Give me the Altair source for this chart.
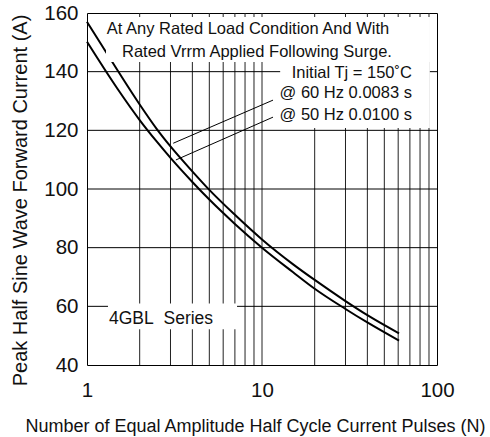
import altair as alt
import pandas as pd

FONT = "Liberation Sans"

# ---- curve data ----
n_60hz = [1, 1.5, 2, 2.5, 3, 4, 5, 7, 10, 15, 20, 30, 40, 60.7]
i_60hz = [157.0, 140.3, 128.8, 120.5, 114.5, 106.0, 99.7, 91.2, 82.8, 74.4, 69.0, 61.8, 57.0, 50.8]
n_50hz = [1, 1.5, 2, 2.5, 3, 4, 5, 7, 10, 15, 20, 30, 40, 60.7]
i_50hz = [150.2, 134.0, 123.5, 116.2, 110.6, 102.4, 96.4, 88.1, 80.0, 71.7, 66.0, 59.1, 54.5, 48.3]

# ---- axis / grid values ----
x_tick_values = [1, 10, 100]
y_tick_values = [40, 60, 80, 100, 120, 140, 160]
x_grid_values = [2, 3, 4, 5, 6, 7, 8, 9, 10, 20, 30, 40, 50, 60, 70, 80, 90]
y_grid_values = [60, 80, 100, 120, 140]

# ---- annotation texts ----
top_lines = ["At Any Rated Load Condition And With", "Rated Vrrm Applied Following Surge."]
top_x = [8.32, 9.36]
top_y = [154.5, 146.7]
right_lines = ["Initial Tj = 150˚C", "@ 60 Hz 0.0083 s", "@ 50 Hz 0.0100 s"]
right_x = [71.9, 71.9, 71.9]
right_y = [139.6, 132.6, 125.2]
series_label = ["4GBL\u00a0 Series"]
series_x = [1.336]
series_y = [55.7]

# white label backgrounds
box_x = [1.284, 12.7, 1.318]
box_x2 = [91.0, 91.0, 7.2]
box_y = [158.6, 158.6, 61.0]
box_y2 = [143.3, 120.8, 52.2]

# leader lines from labels to curves
lead_x = [11.56, 11.56]
lead_y = [130.3, 124.5]
lead_x2 = [3.11, 3.22]
lead_y2 = [115.6, 109.9]

curves = pd.concat([
    pd.DataFrame({"N": n_60hz, "I": i_60hz, "s": "60Hz"}),
    pd.DataFrame({"N": n_50hz, "I": i_50hz, "s": "50Hz"}),
])

xscale = alt.Scale(type="log", domain=[1, 100], nice=False)
yscale = alt.Scale(domain=[40, 160], nice=False)

XTITLE = "Number of Equal Amplitude Half Cycle Current Pulses (N)"
YTITLE = "Peak Half Sine Wave Forward Current (A)"

xaxis = alt.Axis(
    values=x_tick_values, title=XTITLE,
    labelPadding=15, titleFontSize=18,
    titleX=168, titleY=61, titleAlign="center", titleBaseline="middle",
)
yaxis = alt.Axis(
    values=y_tick_values, title=YTITLE,
    labelPadding=9, labelBaseline="middle", titleFontSize=20,
    titleX=-67, titleY=187, titleAlign="center", titleBaseline="middle", titleAngle=270,
)


def X(field):
    return alt.X(field, type="quantitative", scale=xscale, axis=xaxis)


def Y(field):
    return alt.Y(field, type="quantitative", scale=yscale, axis=yaxis)


vgrid = alt.Chart(pd.DataFrame({"N": x_grid_values})).mark_rule(
    color="#222", strokeWidth=1
).encode(x=X("N"))

hgrid = alt.Chart(pd.DataFrame({"I": y_grid_values})).mark_rule(
    color="#000", strokeWidth=1
).encode(y=Y("I"))

lines = alt.Chart(curves).mark_line(
    color="black", strokeWidth=2, interpolate="monotone"
).encode(
    x=X("N"), y=Y("I"),
    detail="s:N",
    order="N:Q",
)

boxes = alt.Chart(pd.DataFrame({"x": box_x, "x2": box_x2, "y": box_y, "y2": box_y2})).mark_rect(
    color="white"
).encode(x=X("x"), x2="x2:Q", y=Y("y"), y2="y2:Q")

leaders = alt.Chart(pd.DataFrame({"x": lead_x, "y": lead_y, "x2": lead_x2, "y2": lead_y2})).mark_rule(
    color="black", strokeWidth=1
).encode(x=X("x"), x2="x2:Q", y=Y("y"), y2="y2:Q")

top_text = alt.Chart(pd.DataFrame({"t": top_lines, "x": top_x, "y": top_y})).mark_text(
    font=FONT, fontSize=16.5, color="#111", align="center", baseline="middle"
).encode(x=X("x"), y=Y("y"), text="t:N")

right_text = alt.Chart(pd.DataFrame({"t": right_lines, "x": right_x, "y": right_y})).mark_text(
    font=FONT, fontSize=16.5, color="#111", align="right", baseline="middle"
).encode(x=X("x"), y=Y("y"), text="t:N")

series_text = alt.Chart(pd.DataFrame({"t": series_label, "x": series_x, "y": series_y})).mark_text(
    font=FONT, fontSize=17.5, color="#111", align="left", baseline="middle"
).encode(x=X("x"), y=Y("y"), text="t:N")

chart = alt.layer(
    vgrid, hgrid, lines, boxes, leaders, top_text, right_text, series_text
).properties(
    width=350, height=352,
    autosize=alt.AutoSizeParams(type="none"),
    padding={"left": 87, "top": 13, "right": 53, "bottom": 72},
    background="white",
).configure(
    font=FONT
).configure_view(
    stroke="black", strokeWidth=1
).configure_axis(
    grid=False, ticks=False, domain=False,
    labelFont=FONT, labelColor="#111", labelFontSize=20.5,
    labelFlush=False, labelOverlap=False,
    titleFont=FONT, titleColor="#111", titleFontWeight="normal",
)

chart.save("out.html", embed_options={"renderer": "svg", "actions": False})
